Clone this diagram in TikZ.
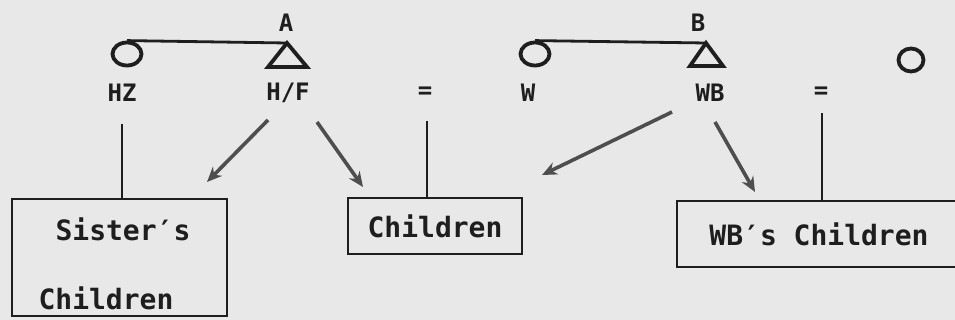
\documentclass[tikz,border=0pt]{standalone}
\usepackage{fontspec}
\setmonofont{DejaVu Sans Mono}
\usetikzlibrary{arrows.meta,shapes.geometric}
\definecolor{bgcol}{HTML}{E8E8E8}
\definecolor{inkcol}{HTML}{1E1E1E}
\definecolor{arrcol}{HTML}{4E4E4E}
\tikzset{
  lbl/.style={inner sep=0pt, text=inkcol, font=\ttfamily\bfseries\fontsize{24}{26}\selectfont},
  boxtxt/.style={inner sep=0pt, text=inkcol, font=\ttfamily\bfseries\fontsize{28}{30}\selectfont},
  kinbox/.style={draw=inkcol, line width=2.6pt, rectangle, inner sep=0pt},
  female/.style={draw=inkcol, line width=3.8pt, ellipse, inner sep=0pt, minimum width=29pt, minimum height=23pt},
  tieline/.style={draw=inkcol, line width=2.8pt},
  descline/.style={draw=inkcol, line width=2.4pt},
  kinarrow/.style={draw=arrcol, line width=3.6pt, -{Stealth[length=15pt,width=13pt]}},
  malesym/.style={draw=inkcol, line width=3.8pt, line join=miter},
}
\begin{document}
\begin{tikzpicture}[x=1pt,y=-1pt]
\fill[bgcol] (0,0) rectangle (955,320);
\useasboundingbox (0,0) rectangle (955,320);
\clip (0,0) rectangle (955,320);

% top labels
\node[lbl] (A) at (286,23) {A};
\node[lbl] (B) at (698,23) {B};

% symbols
\node[female] (c1) at (127,54) {};
\node[female] (c2) at (535,54) {};
\node[female, minimum width=25pt, minimum height=23pt] (c3) at (911,60) {};
\coordinate (t1) at (287,43);
\coordinate (t2) at (706,43);
\draw[malesym] (t1) -- (307,67) -- (268,67) -- cycle;
\draw[malesym] (t2) -- (723,66) -- (690,66) -- cycle;
\draw[tieline] (c1.north) -- (t1);
\draw[tieline] (c2.north) -- (t2);

% row labels
\node[lbl] (hz) at (122,93) {HZ};
\node[lbl] (hf) at (288,93) {H/F};
\node[lbl] (eq1) at (425,93) {=};
\node[lbl] (w) at (528,93) {W};
\node[lbl] (wb) at (710,93) {WB};
\node[lbl] (eq2) at (821,93) {=};

% boxes
\node[kinbox, minimum width=215pt, minimum height=117pt] (lbox) at (119.5,257.5) {};
\node[boxtxt] (sis) at (123,229) {Sister′s};
\node[boxtxt] (sch) at (106,298) {Children};
\node[kinbox, minimum width=174pt, minimum height=56pt, boxtxt] (mbox) at (435,226) {Children};
\node[kinbox, minimum width=284pt, minimum height=66pt, boxtxt] (rbox) at (819,234) {WB′s Children};

% descent lines
\draw[descline] ([yshift=-22pt]hz.south) -- (hz.south |- lbox.north);
\draw[descline] ([xshift=2pt,yshift=-22pt]eq1.south) -- ([xshift=2pt]eq1.south |- mbox.north);
\draw[descline] ([xshift=1pt,yshift=-14pt]eq2.south) -- ([xshift=1pt]eq2.south |- rbox.north);

% arrows
\coordinate (a1s) at (268,120); \coordinate (a1e) at (207,182);
\coordinate (a2s) at (317,122); \coordinate (a2e) at (363,187);
\coordinate (a3s) at (672,112); \coordinate (a3e) at (542,175);
\coordinate (a4s) at (715,122); \coordinate (a4e) at (755,192);
\draw[kinarrow] (a1s) -- (a1e);
\draw[kinarrow] (a2s) -- (a2e);
\draw[kinarrow] (a3s) -- (a3e);
\draw[kinarrow] (a4s) -- (a4e);
\end{tikzpicture}
\end{document}
